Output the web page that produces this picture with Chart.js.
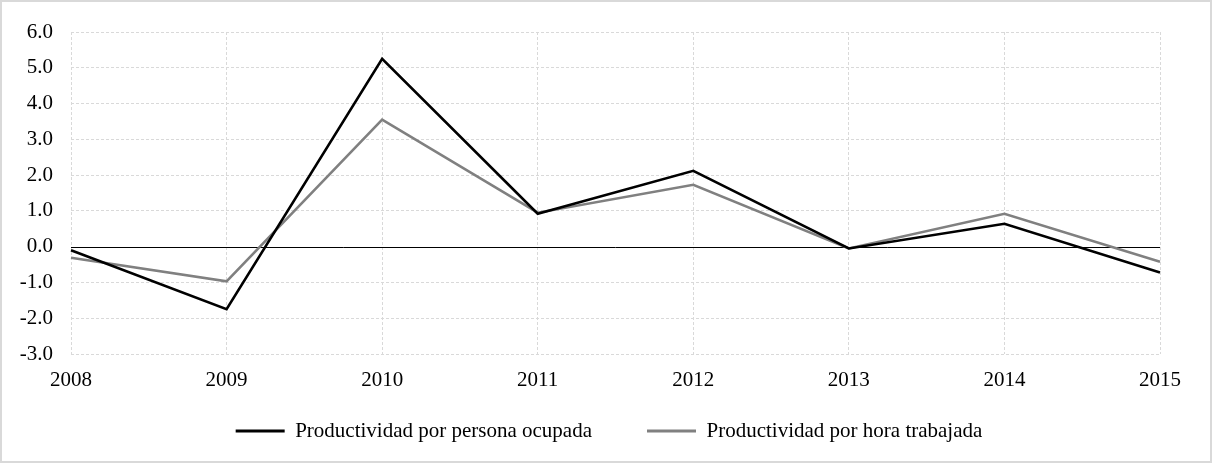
<!DOCTYPE html>
<html>
<head>
<meta charset="utf-8">
<script src="https://cdn.jsdelivr.net/npm/chart.js@4.4.0/dist/chart.umd.min.js"></script>
<style>
  html,body{margin:0;padding:0;background:#fff;}
  #wrap{width:1212px;height:463px;position:relative;}
</style>
</head>
<body>
<div id="wrap"><canvas id="chart" width="1212" height="463"></canvas></div>
<script>
const years = ['2008','2009','2010','2011','2012','2013','2014','2015'];
const porPersona = [-0.10, -1.75, 5.25, 0.92, 2.12, -0.05, 0.64, -0.72];
const porHora = [-0.31, -0.97, 3.55, 0.95, 1.73, -0.05, 0.92, -0.42];
const seriesNames = ['Productividad por persona ocupada', 'Productividad por hora trabajada'];
const yMin = -3, yMax = 6, yStep = 1;

const FONT = "'Liberation Serif','Times New Roman',serif";
const PLOT_TOP = 32, PLOT_BOTTOM = 354, X_AXIS_H = 40;
const LEGEND_PAD = 55, LEGEND_MID = 431, LEGEND_SHIFT = 29;

const frame = {
  id: 'frame',
  afterLayout(chart){
    // put the legend row where the original has it
    const lg = chart.legend;
    if (!lg) return;
    lg.top = LEGEND_MID - LEGEND_PAD - 10.5;
    lg.height = chart.height - lg.top;
    lg.bottom = chart.height;
    lg.left += LEGEND_SHIFT;
    lg.right += LEGEND_SHIFT;
  },
  beforeDraw(chart){
    const c = chart.ctx;
    c.save();
    c.fillStyle = '#fff';
    c.fillRect(0,0,chart.width,chart.height);
    c.strokeStyle = '#d9d9d9';
    c.lineWidth = 2;
    c.strokeRect(1,1,chart.width-2,chart.height-2);
    c.restore();
  },
  beforeDatasetsDraw(chart){
    // solid zero line across the plot
    const c = chart.ctx, y = chart.scales.y.getPixelForValue(0), a = chart.chartArea;
    c.save();
    c.strokeStyle = '#000';
    c.lineWidth = 1;
    c.beginPath();
    c.moveTo(a.left, Math.round(y)+0.5);
    c.lineTo(a.right, Math.round(y)+0.5);
    c.stroke();
    c.restore();
  }
};

new Chart(document.getElementById('chart').getContext('2d'), {
  type: 'line',
  data: {
    labels: years,
    datasets: [
      {label: seriesNames[0], data: porPersona, borderColor: '#000000', backgroundColor: '#000000', borderWidth: 2.6, pointRadius: 0, tension: 0},
      {label: seriesNames[1], data: porHora, borderColor: '#808080', backgroundColor: '#808080', borderWidth: 2.6, pointRadius: 0, tension: 0}
    ]
  },
  options: {
    responsive: false,
    animation: false,
    layout: {padding: {top: PLOT_TOP, right: 52, bottom: 0, left: 0}},
    plugins: {
      tooltip: {enabled: false},
      legend: {
        position: 'bottom',
        maxHeight: 463 - PLOT_BOTTOM - X_AXIS_H,
        labels: {
          font: {family: FONT, size: 21},
          color: '#000',
          boxWidth: 49,
          boxHeight: 3,
          padding: LEGEND_PAD,
          generateLabels(chart){
            return Chart.defaults.plugins.legend.labels.generateLabels(chart).map(l => ({...l, lineWidth: 0}));
          }
        }
      }
    },
    scales: {
      x: {
        offset: false,
        afterFit(s){ s.height = X_AXIS_H; },
        grid: {color: '#d9d9d9', drawTicks: false},
        border: {display: false, dash: [3,2]},
        ticks: {font: {family: FONT, size: 21}, color: '#000', padding: 14, maxRotation: 0, autoSkip: false}
      },
      y: {
        min: yMin, max: yMax,
        afterFit(s){ s.width = 71; },
        grid: {color: (ctx) => ctx.tick && ctx.tick.value === 0 ? 'rgba(0,0,0,0)' : '#d9d9d9', drawTicks: false},
        border: {display: false, dash: [3,2]},
        ticks: {stepSize: yStep, font: {family: FONT, size: 21}, color: '#000', padding: 18,
          callback: v => Number(v).toFixed(1)}
      }
    }
  },
  plugins: [frame]
});
</script>
</body>
</html>
